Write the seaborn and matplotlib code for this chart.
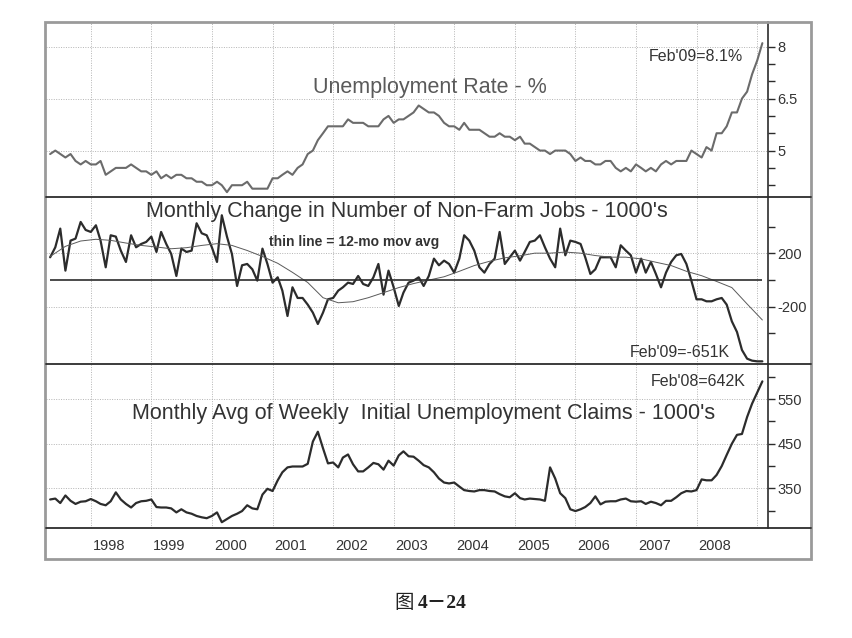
#Recreate the 3 panel jobs chart (unemployment rate, payroll change, initial claims)
#values, monthly from May 1997 to Feb 2009

import numpy as np
import pandas as pd
import matplotlib
matplotlib.use("Agg")
import matplotlib.pyplot as plt
import matplotlib.dates as mdates
import matplotlib.transforms as mtransforms
from matplotlib import font_manager
from matplotlib.lines import Line2D
from matplotlib.patches import Rectangle
from matplotlib.ticker import FixedLocator, FuncFormatter
import seaborn as sns

#unemployment rate - %
unemp = [4.9, 5.0, 4.9, 4.8, 4.9, 4.7, 4.6, 4.7,
         4.6, 4.6, 4.7, 4.3, 4.4, 4.5, 4.5, 4.5, 4.6, 4.5, 4.4, 4.4,
         4.3, 4.4, 4.2, 4.3, 4.2, 4.3, 4.3, 4.2, 4.2, 4.1, 4.1, 4.0,
         4.0, 4.1, 4.0, 3.8, 4.0, 4.0, 4.0, 4.1, 3.9, 3.9, 3.9, 3.9,
         4.2, 4.2, 4.3, 4.4, 4.3, 4.5, 4.6, 4.9, 5.0, 5.3, 5.5, 5.7,
         5.7, 5.7, 5.7, 5.9, 5.8, 5.8, 5.8, 5.7, 5.7, 5.7, 5.9, 6.0,
         5.8, 5.9, 5.9, 6.0, 6.1, 6.3, 6.2, 6.1, 6.1, 6.0, 5.8, 5.7,
         5.7, 5.6, 5.8, 5.6, 5.6, 5.6, 5.5, 5.4, 5.4, 5.5, 5.4, 5.4,
         5.3, 5.4, 5.2, 5.2, 5.1, 5.0, 5.0, 4.9, 5.0, 5.0, 5.0, 4.9,
         4.7, 4.8, 4.7, 4.7, 4.6, 4.6, 4.7, 4.7, 4.5, 4.4, 4.5, 4.4,
         4.6, 4.5, 4.4, 4.5, 4.4, 4.6, 4.7, 4.6, 4.7, 4.7, 4.7, 5.0,
         4.9, 4.8, 5.1, 5.0, 5.5, 5.5, 5.7, 6.1, 6.1, 6.5, 6.7, 7.2,
         7.6, 8.1]

#monthly change in non-farm jobs - 1000's
jobs = [170, 245, 385, 70, 295, 310, 435, 375, 360, 410,
        295, 95, 335, 325, 220, 135, 335, 245, 270, 285,
        325, 210, 360, 270, 195, 30, 235, 210, 220, 425,
        350, 335, 245, 135, 485, 325, 195, -45, 110, 120,
        80, -5, 235, 120, -20, 20, -80, -270, -55, -135,
        -135, -185, -245, -330, -245, -145, -135, -80, -55, -20,
        -30, 30, -30, -45, 20, 120, -110, 70, -55, -195,
        -95, -20, -5, 20, -45, 30, 160, 110, 145, 120,
        55, 160, 335, 295, 220, 95, 55, 120, 160, 360,
        120, 170, 220, 145, 210, 285, 295, 335, 245, 160,
        95, 385, 185, 295, 285, 270, 170, 45, 80, 170,
        170, 170, 95, 260, 220, 185, 55, 160, 55, 135,
        45, -55, 55, 135, 185, 195, 120, -5, -145, -145,
        -160, -160, -145, -135, -185, -310, -390, -525, -590, -605,
        -610, -610]

#thin line, 12-mo moving avg, read every 3 months
jobs_ma = [176, 252, 292, 305, 297, 277, 259, 247, 234, 242,
           259, 272, 259, 221, 176, 125, 57, -19, -133, -171,
           -163, -133, -95, -57, -27, -1, 24, 65, 108, 140,
           166, 181, 201, 201, 209, 201, 183, 171, 171, 158,
           133, 108, 65, 32, -11, -57, -180, -300]

#monthly avg of weekly initial claims - 1000's
claims = [325, 327, 317, 334, 322, 315, 320, 321, 326, 321,
          315, 312, 321, 341, 325, 315, 307, 317, 321, 322,
          325, 308, 307, 307, 305, 296, 303, 296, 293, 288,
          285, 283, 288, 296, 274, 281, 288, 293, 299, 312,
          305, 303, 336, 349, 344, 368, 386, 397, 399, 399,
          399, 405, 455, 477, 440, 406, 408, 397, 419, 426,
          404, 388, 388, 397, 407, 404, 392, 412, 401, 424,
          433, 422, 421, 412, 402, 397, 386, 372, 363, 361,
          363, 354, 346, 344, 343, 346, 346, 344, 343, 337,
          332, 330, 339, 328, 325, 327, 326, 325, 322, 397,
          372, 339, 328, 303, 299, 303, 308, 317, 332, 314,
          320, 321, 321, 325, 327, 321, 320, 321, 315, 320,
          317, 312, 322, 322, 330, 339, 344, 343, 346, 370,
          368, 368, 380, 400, 425, 450, 470, 472, 510, 540,
          565, 590]

months = pd.date_range("1997-05-01", periods=len(unemp), freq="MS")
ma_months = pd.date_range("1997-05-01", periods=len(jobs_ma), freq="3MS")

sns.set_theme(style="white")
plt.rcParams["font.family"] = ["Liberation Sans", "Noto Sans CJK SC", "DejaVu Sans"]

#the small labels in the original are a narrow face, use one if it is there
try:
    font_manager.findfont("Liberation Sans Narrow", fallback_to_default=False)
    narrow, k = "Liberation Sans Narrow", 1.2
except ValueError:
    narrow, k = "Liberation Sans", 1.0

W, H = 853, 638
fig = plt.figure(figsize=(W / 100, H / 100), dpi=100)
fig.patch.set_facecolor("white")

def px(x, y):
    return x / W, 1 - y / H

def box(top, bottom):
    return [46 / W, 1 - bottom / H, 722 / W, (bottom - top) / H]

ax1 = fig.add_axes(box(22, 197))
ax2 = fig.add_axes(box(197, 364), sharex=ax1)
ax3 = fig.add_axes(box(364, 528), sharex=ax1)

dark = "#2c2c2c"
grid_kw = dict(color="#b4b4b4", linestyle=(0, (1, 1.5)), linewidth=0.7)

sns.lineplot(x=months, y=unemp, ax=ax1, color="#6b6b6b", linewidth=1.5)
sns.lineplot(x=months, y=jobs, ax=ax2, color=dark, linewidth=1.6)
sns.lineplot(x=ma_months, y=jobs_ma, ax=ax2, color="#5a5a5a", linewidth=0.7)
ax2.hlines(0, months[0], months[-1], color=dark, linewidth=1.2)
sns.lineplot(x=months, y=claims, ax=ax3, color=dark, linewidth=1.6)

ax1.set_ylim(3.66, 8.71)
ax2.set_ylim(-630, 622)
ax3.set_ylim(261, 629)
ax1.set_xlim(pd.Timestamp("1997-04-06"), pd.Timestamp("2009-03-07"))

major_y = [[5, 6.5, 8], [-200, 200], [350, 450, 550]]
minor_y = [[4, 4.5, 5.5, 6, 7, 7.5], [-400, 0, 400], [300, 400, 500, 600]]

ax1.xaxis.set_major_locator(mdates.YearLocator(1, month=1, day=1))
ax1.xaxis.set_major_formatter(FuncFormatter(
    lambda v, p: "" if mdates.num2date(v).year > 2008 else str(mdates.num2date(v).year)))

for ax, maj, mnr in zip([ax1, ax2, ax3], major_y, minor_y):
    ax.set_xlabel("")
    ax.set_ylabel("")
    ax.set_facecolor("white")
    for s in ["top", "left", "bottom"]:
        ax.spines[s].set_visible(False)
    ax.spines["right"].set_color(dark)
    ax.spines["right"].set_linewidth(1.2)
    ax.yaxis.tick_right()
    ax.yaxis.set_major_locator(FixedLocator(maj))
    ax.yaxis.set_minor_locator(FixedLocator(mnr))
    ax.yaxis.set_major_formatter(FuncFormatter(lambda v, p: f"{v:g}"))
    ax.tick_params(axis="y", which="both", direction="out", length=5, width=1,
                   color=dark, pad=2, labelsize=10.5 * k, labelcolor="#333333",
                   labelfontfamily=narrow)
    ax.grid(False)
    ax.grid(True, axis="x", which="major", **grid_kw)
    ax.grid(True, axis="y", which="major", **grid_kw)

for ax in [ax1, ax2]:
    ax.tick_params(axis="x", which="both", length=0, labelbottom=False)

ax3.tick_params(axis="x", which="major", direction="out", length=8, width=1,
                color=dark, pad=0, labelsize=10.5 * k, labelcolor="#333333",
                labelfontfamily=narrow)
shift = mtransforms.ScaledTranslation(2 / 100, 0, fig.dpi_scale_trans)
for lbl in ax3.get_xticklabels():
    lbl.set_horizontalalignment("left")
    lbl.set_transform(lbl.get_transform() + shift)

#panel titles
fig.text(*px(430, 88), "Unemployment Rate - %", ha="center", va="center",
         fontsize=15.5, color="#5a5a5a")
fig.text(*px(407, 212), "Monthly Change in Number of Non-Farm Jobs - 1000's",
         ha="center", va="center", fontsize=15.5, color="#333333")
fig.text(*px(354, 242), "thin line = 12-mo mov avg", ha="center", va="center",
         fontsize=10 * k, fontweight="bold", color="#333333", family=narrow)
fig.text(*px(424, 413), "Monthly Avg of Weekly  Initial Unemployment Claims - 1000's",
         ha="center", va="center", fontsize=15.5, color="#333333")

#end-point labels
note_kw = dict(textcoords="offset pixels", ha="right", va="center",
               fontsize=11.5 * k, color="#333333", family=narrow)
ax1.annotate("Feb'09=8.1%", xy=(months[-1], unemp[-1]), xytext=(-19, -13), **note_kw)
ax2.annotate("Feb'09=-651K", xy=(months[-1], jobs[-1]), xytext=(-32, 9), **note_kw)
ax3.annotate("Feb'08=642K", xy=(months[-1], claims[-1]), xytext=(-17, 0), **note_kw)

#dividers across the frame and the outer box
for yy in [197, 364, 528]:
    fig.add_artist(Line2D([46 / W, 811 / W], [1 - yy / H] * 2, color=dark, linewidth=1.3))
fig.add_artist(Rectangle(px(45, 559), (811 - 45) / W, (559 - 22) / H,
                         transform=fig.transFigure, fill=False,
                         edgecolor="#9a9a9a", linewidth=2))

#caption
fig.text(*px(414, 603), "图", ha="right", va="center", fontsize=14,
         family=["Noto Sans CJK SC", "DejaVu Sans"], color="#222222")
fig.text(*px(418, 603), "4－24", ha="left", va="center", fontsize=14,
         fontweight="bold", family=["Liberation Serif", "Noto Sans CJK SC"],
         color="#222222")

fig.savefig("out.png", dpi=100, facecolor="white")
